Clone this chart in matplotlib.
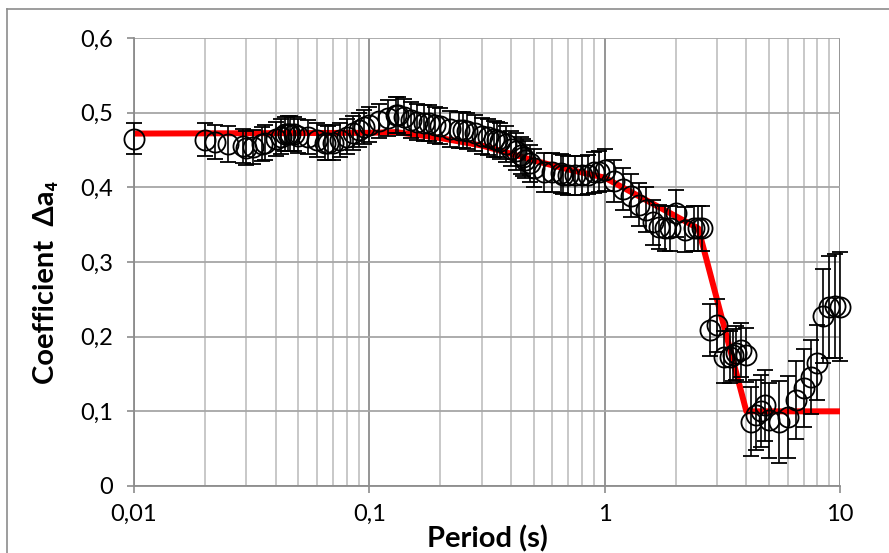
import numpy as np
import matplotlib.pyplot as plt
from matplotlib.ticker import LogLocator, NullFormatter
from matplotlib.lines import Line2D

# police proche de Calibri, DejaVu pour les signes manquants
plt.rcParams['font.family'] = ['Lato', 'DejaVu Sans']

# periodes (s)
periods = [0.01, 0.02, 0.022, 0.025, 0.029, 0.03, 0.032, 0.035, 0.036, 0.04,
           0.042, 0.044, 0.045, 0.046, 0.048, 0.05, 0.055, 0.06, 0.065, 0.067,
           0.07, 0.075, 0.08, 0.085, 0.09, 0.095, 0.1, 0.11, 0.12, 0.13,
           0.133, 0.14, 0.15, 0.16, 0.17, 0.18, 0.19, 0.2, 0.22, 0.24,
           0.25, 0.26, 0.28, 0.3, 0.32, 0.34, 0.35, 0.36, 0.38, 0.4,
           0.42, 0.44, 0.45, 0.46, 0.48, 0.5, 0.55, 0.6, 0.65, 0.667,
           0.7, 0.75, 0.8, 0.85, 0.9, 0.95, 1.0, 1.1, 1.2, 1.3,
           1.4, 1.5, 1.6, 1.7, 1.8, 1.9, 2.0, 2.2, 2.4, 2.5,
           2.6, 2.8, 3.0, 3.2, 3.4, 3.5, 3.6, 3.8, 4.0, 4.2,
           4.4, 4.6, 4.8, 5.0, 5.5, 6.0, 6.5, 7.0, 7.5, 8.0,
           8.5, 9.0, 9.5, 10.0]

# coefficient delta a4 (cercles)
coef = [0.465, 0.464, 0.461, 0.458, 0.455, 0.453, 0.454, 0.458, 0.460, 0.465,
        0.468, 0.471, 0.472, 0.472, 0.471, 0.469, 0.467, 0.463, 0.460, 0.459,
        0.460, 0.463, 0.468, 0.473, 0.477, 0.481, 0.484, 0.489, 0.493, 0.497,
        0.497, 0.494, 0.490, 0.488, 0.486, 0.486, 0.484, 0.482, 0.478, 0.477,
        0.477, 0.476, 0.473, 0.469, 0.467, 0.465, 0.464, 0.462, 0.458, 0.452,
        0.448, 0.443, 0.440, 0.437, 0.432, 0.426, 0.420, 0.420, 0.419, 0.417,
        0.416, 0.416, 0.416, 0.417, 0.420, 0.421, 0.423, 0.408, 0.398, 0.389,
        0.377, 0.370, 0.353, 0.347, 0.345, 0.345, 0.365, 0.343, 0.345, 0.345,
        0.345, 0.209, 0.215, 0.173, 0.173, 0.175, 0.178, 0.182, 0.175, 0.086,
        0.095, 0.100, 0.108, 0.088, 0.086, 0.092, 0.115, 0.131, 0.146, 0.165,
        0.228, 0.240, 0.241, 0.240]

# demi-largeur des barres d'erreur
coef_err = [0.021, 0.022, 0.023, 0.024, 0.023, 0.023, 0.023, 0.023, 0.023, 0.023,
            0.023, 0.023, 0.023, 0.023, 0.023, 0.023, 0.023, 0.023, 0.023, 0.023,
            0.023, 0.023, 0.023, 0.023, 0.023, 0.023, 0.023, 0.023, 0.024, 0.024,
            0.024, 0.024, 0.024, 0.024, 0.024, 0.024, 0.024, 0.024, 0.024, 0.024,
            0.024, 0.024, 0.024, 0.024, 0.024, 0.024, 0.024, 0.024, 0.024, 0.024,
            0.025, 0.025, 0.025, 0.025, 0.025, 0.026, 0.026, 0.026, 0.026, 0.026,
            0.026, 0.026, 0.026, 0.026, 0.027, 0.027, 0.028, 0.028, 0.028, 0.029,
            0.029, 0.030, 0.030, 0.030, 0.030, 0.030, 0.031, 0.030, 0.030, 0.030,
            0.030, 0.035, 0.035, 0.035, 0.035, 0.035, 0.036, 0.036, 0.036, 0.046,
            0.047, 0.048, 0.048, 0.050, 0.055, 0.055, 0.052, 0.052, 0.050, 0.050,
            0.063, 0.068, 0.070, 0.073]

# modele (ligne rouge)
model_T = [0.01, 0.1, 0.13, 0.2, 0.3, 0.4, 0.5, 0.7, 1.0, 2.5, 4.0, 10.0]
model_v = [0.472, 0.473, 0.474, 0.466, 0.456, 0.445, 0.436, 0.424, 0.413, 0.345, 0.100, 0.100]

yticks = [0, 0.1, 0.2, 0.3, 0.4, 0.5, 0.6]
ytick_labels = ['0', '0,1', '0,2', '0,3', '0,4', '0,5', '0,6']
xticks = [0.01, 0.1, 1, 10]
xtick_labels = ['0,01', '0,1', '1', '10']

fig = plt.figure(figsize=(8.89, 5.53), dpi=100)
ax = fig.add_axes([134 / 889, 1 - 486 / 553, 706 / 889, 448 / 553])

# cadre exterieur du graphique (coupe a droite et en bas)
fig.add_artist(Line2D([7 / 889, 7 / 889], [0, 1 - 9 / 553], transform=fig.transFigure,
                      color='#8c8c8c', lw=1.2))
fig.add_artist(Line2D([7 / 889, 1], [1 - 9 / 553, 1 - 9 / 553], transform=fig.transFigure,
                      color='#8c8c8c', lw=1.2))

ax.plot(model_T, model_v, color='#ff0000', lw=4.3, zorder=2,
        solid_joinstyle='round', solid_capstyle='butt')
eb = ax.errorbar(periods, coef, yerr=coef_err, fmt='o', ms=14.5, mfc='none', mec='black',
                 mew=1.3, ecolor='black', elinewidth=1.2, capsize=5.5, capthick=1.2,
                 zorder=3)
for art in eb.lines[0:1] + eb.lines[1] + eb.lines[2]:
    art.set_clip_on(False)

ax.set_xscale('log')
ax.set_xlim(0.01, 10)
ax.set_ylim(0, 0.6)
ax.set_xticks(xticks)
ax.set_xticklabels(xtick_labels)
ax.xaxis.set_minor_locator(LogLocator(base=10, subs=np.arange(2, 10)))
ax.xaxis.set_minor_formatter(NullFormatter())
ax.set_yticks(yticks)
ax.set_yticklabels(ytick_labels)

ax.set_axisbelow(True)
ax.grid(True, which='major', axis='y', color='#a6a6a6', lw=1.3)
ax.grid(True, which='major', axis='x', color='#8c8c8c', lw=1.3)
ax.grid(True, which='minor', axis='x', color='#c4c4c4', lw=1.3)

for s in ['top', 'right']:
    ax.spines[s].set_visible(False)
for s in ['left', 'bottom']:
    ax.spines[s].set_color('#8c8c8c')
    ax.spines[s].set_linewidth(1.3)

ax.tick_params(axis='both', which='major', direction='out', length=5, width=1.2,
               color='#8c8c8c', labelsize=17, labelcolor='black')
ax.tick_params(axis='y', pad=10)
ax.tick_params(axis='x', pad=8)
ax.tick_params(axis='x', which='minor', length=0)

ax.set_xlabel('Period (s)', fontsize=21, fontweight='bold')
ax.xaxis.set_label_coords(0.5, -0.088)
ax.set_ylabel('Coefficient  Δa₄', fontsize=21, fontweight='bold')
ax.yaxis.set_label_coords(-0.106, 0.455)

fig.savefig('out.png', dpi=100)
